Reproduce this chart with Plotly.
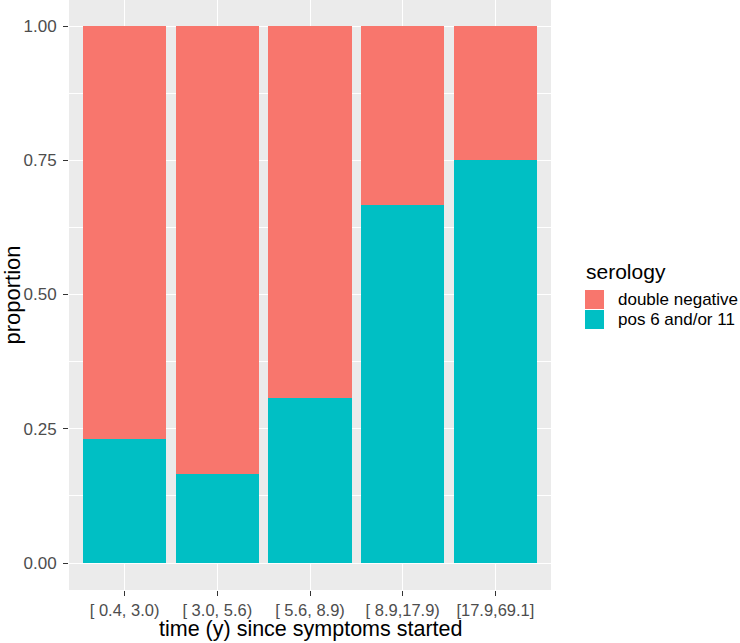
import plotly.graph_objects as go

# time since symptom onset bins, proportion by serology group
categories = ["[ 0.4, 3.0)", "[ 3.0, 5.6)", "[ 5.6, 8.9)", "[ 8.9,17.9)", "[17.9,69.1]"]
pos_6_11 = [3 / 13, 1 / 6, 4 / 13, 2 / 3, 0.75]
double_neg = [1 - p for p in pos_6_11]
y_ticks = [0, 0.25, 0.5, 0.75, 1.0]
y_ticklabels = ["0.00", "0.25", "0.50", "0.75", "1.00"]

legend_names = ["double negative", "pos 6 and/or 11"]
legend_colors = ["#F8766D", "#00BFC4"]

FONT = "Liberation Sans, Arial, sans-serif"
W, H = 740, 643
ML, MR, MT, MB = 69, 189, 0, 53
PW, PH = W - ML - MR, H - MT - MB


def px_x(px):
    return (px - ML) / PW


def px_y(py):
    return (H - MB - py) / PH


fig = go.Figure()
fig.add_trace(go.Bar(
    x=categories, y=pos_6_11, name=legend_names[1],
    marker=dict(color=legend_colors[1], line=dict(width=0)),
))
fig.add_trace(go.Bar(
    x=categories, y=double_neg, name=legend_names[0],
    marker=dict(color=legend_colors[0], line=dict(width=0)),
))

# ggplot-style legend, drawn by hand so the keys are full-size boxes
shapes, annotations = [], []
annotations.append(dict(
    text="serology", xref="paper", yref="paper", x=px_x(584), y=px_y(271),
    xanchor="left", yanchor="middle", showarrow=False,
    font=dict(size=21, color="black"),
))
for i, (name, col) in enumerate(zip(legend_names, legend_colors)):
    top = 290 + i * 20
    shapes.append(dict(
        type="rect", xref="paper", yref="paper",
        x0=px_x(585), x1=px_x(604), y0=px_y(top + 19), y1=px_y(top),
        fillcolor=col, line=dict(width=0),
    ))
    annotations.append(dict(
        text=name, xref="paper", yref="paper", x=px_x(616), y=px_y(top + 9.5),
        xanchor="left", yanchor="middle", showarrow=False,
        font=dict(size=17, color="black"),
    ))

# x axis title placed by hand just under the tick labels
annotations.append(dict(
    text="time (y) since symptoms started", xref="paper", yref="paper",
    x=0.5, y=px_y(643), xanchor="center", yanchor="bottom", showarrow=False,
    font=dict(size=21.5, color="black"),
))

fig.update_layout(
    width=W, height=H,
    barmode="stack", bargap=0.1,
    plot_bgcolor="#EBEBEB", paper_bgcolor="white",
    font=dict(family=FONT, color="#4D4D4D"),
    margin=dict(l=ML, r=MR, t=MT, b=MB, autoexpand=False),
    showlegend=False,
    shapes=shapes,
    annotations=annotations,
    xaxis=dict(
        range=[-0.6, 4.6],
        showgrid=True, gridcolor="white", gridwidth=1.3,
        ticks="outside", ticklen=5, tickcolor="#333333", tickwidth=1.3,
        tickfont=dict(size=16.5, color="#4D4D4D"),
        ticklabelstandoff=0,
        zeroline=False, showline=False,
    ),
    yaxis=dict(
        range=[-27 / 537, 1 + 26 / 537],
        tickvals=y_ticks, ticktext=y_ticklabels,
        showgrid=True, gridcolor="white", gridwidth=1.3,
        minor=dict(dtick=0.25, tick0=0.125, showgrid=True, gridcolor="white", gridwidth=0.6, ticks=""),
        ticks="outside", ticklen=5, tickcolor="#333333", tickwidth=1.3,
        tickfont=dict(size=17, color="#4D4D4D"),
        ticklabelstandoff=3,
        title=dict(text="proportion", font=dict(size=22, color="black"), standoff=2),
        zeroline=False, showline=False,
    ),
)

fig.write_html(
    "out.html",
    config={"displayModeBar": False},
    post_script="document.body.style.margin='0';",
)
